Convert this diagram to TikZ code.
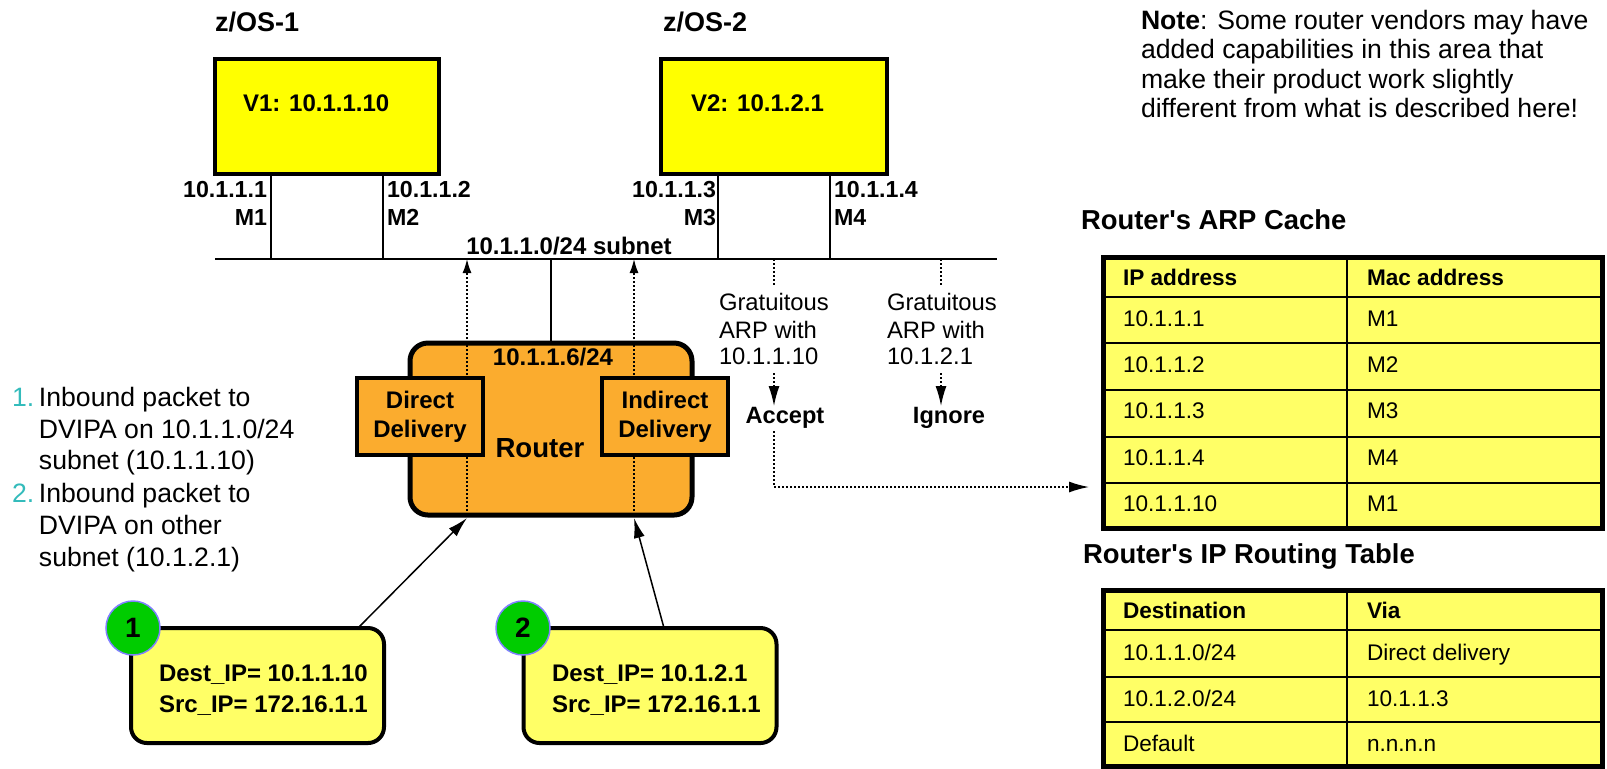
\documentclass[tikz,border=0pt]{standalone}
\usepackage{fontspec}
\setmainfont{Liberation Sans}
\usetikzlibrary{arrows.meta}
\definecolor{vyel}{RGB}{255,255,0}
\definecolor{rorange}{RGB}{251,172,46}
\definecolor{lyel}{RGB}{255,255,102}
\definecolor{cgreen}{RGB}{0,204,0}
\definecolor{cblue}{RGB}{128,128,255}
\definecolor{lteal}{RGB}{51,187,187}
\newcommand\fsz[2]{\fontsize{#1}{#2}\selectfont}
\begin{document}
\begin{tikzpicture}[x=0.5pt,y=-0.5pt,
  every node/.style={inner sep=0pt,outer sep=0pt},
  bl/.style={font=\bfseries\fsz{#1}{#1}},
  rl/.style={font=\fsz{#1}{#1}},
  thinl/.style={line width=0.75pt},
  dotl/.style={line width=0.75pt,dash pattern=on 1pt off 1pt},
  arr/.style={-{Latex[length=10pt,width=5.5pt]}},
  uarr/.style={-{Latex[length=7pt,width=4.5pt]}},
  vbox/.style={draw,line width=1.6pt,fill=vyel,minimum height=57.5pt},
  delbox/.style={draw,line width=2pt,fill=rorange,minimum width=63pt,minimum height=38.5pt,
    align=center,font=\bfseries\fsz{12pt}{14.5pt}},
  pkt/.style={draw,line width=2pt,fill=lyel,rounded corners=8pt,minimum width=126.5pt,minimum height=57.5pt},
  badge/.style={circle,draw=cblue,line width=0.75pt,fill=cgreen,minimum size=27pt,bl=14pt},
  tabout/.style={line width=2.5pt},
  tabin/.style={line width=1pt}
]
\useasboundingbox (0,0) rectangle (1607,768);

% ---------- hosts ----------
\node[bl=13.5pt,anchor=base west] (zos1) at (215,31) {z/OS-1};
\node[bl=13.5pt,anchor=base west] (zos2) at (663,31) {z/OS-2};
\node[vbox,minimum width=112pt] (v1) at (327,116.5) {};
\node[vbox,minimum width=113pt] (v2) at (774,116.5) {};
\node[bl=12pt,anchor=base west] (v1t) at (243,111) {V1: 10.1.1.10};
\node[bl=12pt,anchor=base west] (v2t) at (691,111) {V2: 10.1.2.1};

% ---------- subnet ----------
\coordinate (netL) at (215,259);
\coordinate (netR) at (997,259);
\draw[thinl] (netL) -- (netR);
\coordinate (m1) at (271,259);
\coordinate (m2) at (383,259);
\coordinate (m3) at (718,259);
\coordinate (m4) at (830,259);
\draw[thinl] (v1.south -| m1) -- (m1);
\draw[thinl] (v1.south -| m2) -- (m2);
\draw[thinl] (v2.south -| m3) -- (m3);
\draw[thinl] (v2.south -| m4) -- (m4);
\node[bl=11.6pt,anchor=base east] (ip1) at (267,197) {10.1.1.1};
\node[bl=11.6pt,anchor=base east] (mac1) at (267,225) {M1};
\node[bl=11.6pt,anchor=base west] (ip2) at (387,197) {10.1.1.2};
\node[bl=11.6pt,anchor=base west] (mac2) at (387,225) {M2};
\node[bl=11.6pt,anchor=base east] (ip3) at (716,197) {10.1.1.3};
\node[bl=11.6pt,anchor=base east] (mac3) at (716,225) {M3};
\node[bl=11.6pt,anchor=base west] (ip4) at (834,197) {10.1.1.4};
\node[bl=11.6pt,anchor=base west] (mac4) at (834,225) {M4};
\node[bl=12pt,anchor=base] (subl) at (569,254) {10.1.1.0/24 subnet};

% ---------- router ----------
\node[draw,line width=2.5pt,fill=rorange,rounded corners=9pt,minimum width=141pt,minimum height=86pt] (rt) at (551,429) {};
\draw[thinl] (rt.north) -- (rt.north |- netL);
\coordinate (dd) at (467,259);
\coordinate (id) at (634,259);
\draw[dotl,uarr] (rt.south -| dd) -- (dd);
\draw[dotl,uarr] (rt.south -| id) -- (id);
\node[delbox] (dir) at (420,416.5) {Direct\\Delivery};
\node[delbox] (ind) at (665,416.5) {Indirect\\Delivery};
\node[bl=12pt,anchor=base] (rip) at (553,365) {10.1.1.6/24};
\node[bl=13.8pt,anchor=base] (rlab) at (540,457) {Router};

% ---------- list ----------
\node[rl=13.3pt,anchor=base west,text=lteal] (n1) at (12,406.5) {1.};
\node[rl=13.3pt,anchor=base west] (l1a) at (39,406.5) {Inbound packet to};
\node[rl=13.3pt,anchor=base west] (l1b) at (39,438) {DVIPA on 10.1.1.0/24};
\node[rl=13.3pt,anchor=base west] (l1c) at (39,469.5) {subnet (10.1.1.10)};
\node[rl=13.3pt,anchor=base west,text=lteal] (n2) at (12,502.5) {2.};
\node[rl=13.3pt,anchor=base west] (l2a) at (39,502.5) {Inbound packet to};
\node[rl=13.3pt,anchor=base west] (l2b) at (39,534) {DVIPA on other};
\node[rl=13.3pt,anchor=base west] (l2c) at (39,566) {subnet (10.1.2.1)};

% ---------- packets ----------
\node[pkt] (pk1) at (257.5,685.5) {};
\node[pkt] (pk2) at (650,685.5) {};
\node[bl=12pt,anchor=base west] (pk1a) at (159,681) {Dest\_IP= 10.1.1.10};
\node[bl=12pt,anchor=base west] (pk1b) at (159,712) {Src\_IP= 172.16.1.1};
\node[bl=12pt,anchor=base west] (pk2a) at (552,681) {Dest\_IP= 10.1.2.1};
\node[bl=12pt,anchor=base west] (pk2b) at (552,712) {Src\_IP= 172.16.1.1};
\node[badge] (c1) at (133,628) {1};
\node[badge] (c2) at (523,628) {2};
\coordinate (p1a) at (358,628);
\coordinate (p2a) at (664,628);
\coordinate (r1) at (467,518);
\coordinate (r2) at (634,518);
\draw[thinl,arr] (p1a) -- (r1);
\draw[thinl,arr] (p2a) -- (r2);

% ---------- gratuitous ARP ----------
\coordinate (g1) at (774,285);
\coordinate (g2) at (941,285);
\draw[dotl] (g1 |- netL) -- (g1);
\draw[dotl] (g2 |- netL) -- (g2);
\node[rl=11.9pt,anchor=base west] (ga1) at (719,310.5) {Gratuitous};
\node[rl=11.9pt,anchor=base west] (ga2) at (719,338.5) {ARP with};
\node[rl=11.9pt,anchor=base west] (ga3) at (719,364.5) {10.1.1.10};
\node[rl=11.9pt,anchor=base west] (gb1) at (887,310.5) {Gratuitous};
\node[rl=11.9pt,anchor=base west] (gb2) at (887,338.5) {ARP with};
\node[rl=11.9pt,anchor=base west] (gb3) at (887,364.5) {10.1.2.1};
\node[bl=11.8pt,anchor=base] (acc) at (785,423) {Accept};
\node[bl=11.8pt,anchor=base] (ign) at (949,423) {Ignore};
\coordinate (g1b) at (774,373);
\coordinate (g1c) at (774,406);
\coordinate (g2b) at (941,373);
\coordinate (g2c) at (941,406);
\draw[dotl,arr] (g1b) -- (g1c);
\draw[dotl,arr] (g2b) -- (g2c);
\coordinate (a0) at (774,431);
\coordinate (a1) at (774,487);
\coordinate (a2) at (1089,487);
\draw[dotl,arr] (a0) -- (a1) -- (a2);

% ---------- note ----------
\node[rl=13.3pt,anchor=base west] (nt1) at (1141,29) {\textbf{Note}: Some router vendors may have};
\node[rl=13.3pt,anchor=base west] (nt2) at (1141,58.5) {added capabilities in this area that};
\node[rl=13.3pt,anchor=base west] (nt3) at (1141,88) {make their product work slightly};
\node[rl=13.3pt,anchor=base west] (nt4) at (1141,117.5) {different from what is described here!};

% ---------- ARP cache table ----------
\node[bl=13.7pt,anchor=base west] (arpt) at (1081,229) {Router\textquotesingle s ARP Cache};
\draw[tabout,fill=lyel] (1103,257) rectangle (1602,528);
\draw[tabin] (1347,257) -- (1347,528);
\foreach \y in {297,343,390,437,483} \draw[tabin] (1103,\y) -- (1602,\y);
\node[bl=11.3pt,anchor=base west] (arph1) at (1123,285) {IP address};
\node[bl=11.3pt,anchor=base west] (arph2) at (1367,285) {Mac address};
\foreach \i/\y/\a/\b in {1/326/10.1.1.1/M1,2/372/10.1.1.2/M2,3/418/10.1.1.3/M3,4/465/10.1.1.4/M4,5/511/10.1.1.10/M1}{
  \node[rl=11.3pt,anchor=base west] (arp\i a) at (1123,\y) {\a};
  \node[rl=11.3pt,anchor=base west] (arp\i b) at (1367,\y) {\b};
}

% ---------- routing table ----------
\node[bl=13.7pt,anchor=base west] (rtt) at (1083,563) {Router\textquotesingle s IP Routing Table};
\draw[tabout,fill=lyel] (1103,590) rectangle (1602,766);
\draw[tabin] (1347,590) -- (1347,766);
\foreach \y in {630,677,722} \draw[tabin] (1103,\y) -- (1602,\y);
\node[bl=11.3pt,anchor=base west] (rth1) at (1123,618) {Destination};
\node[bl=11.3pt,anchor=base west] (rth2) at (1367,618) {Via};
\foreach \i/\y/\a/\b in {1/660/10.1.1.0\slash 24/Direct delivery,2/706/10.1.2.0\slash 24/10.1.1.3,3/751/Default/n.n.n.n}{
  \node[rl=11.3pt,anchor=base west] (rtr\i a) at (1123,\y) {\a};
  \node[rl=11.3pt,anchor=base west] (rtr\i b) at (1367,\y) {\b};
}
\end{tikzpicture}
\end{document}
